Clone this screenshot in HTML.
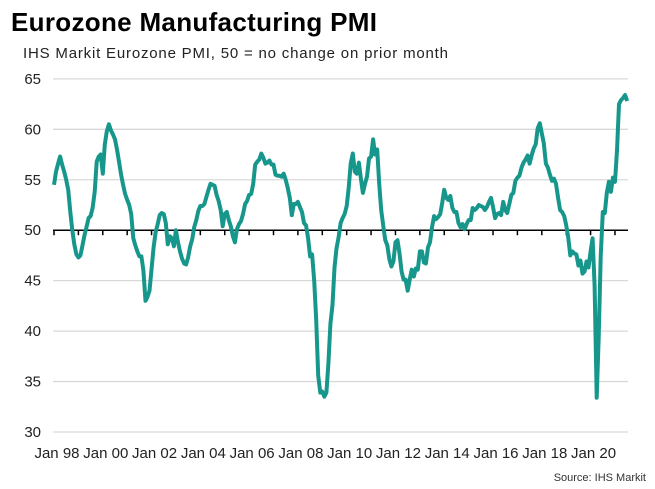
<!DOCTYPE html>
<html><head><meta charset="utf-8"><style>
body{margin:0;background:#fff;font-family:"Liberation Sans",Arial,sans-serif;}
#wrap{position:relative;width:655px;height:489px;overflow:hidden;}
</style></head><body>
<div id="wrap">
<svg id="chart" width="655" height="489">
<text x="11" y="31" font-size="26" font-weight="bold" fill="#000" textLength="366">Eurozone Manufacturing PMI</text>
<text x="23" y="58" font-size="15" fill="#222" textLength="425">IHS Markit  Eurozone PMI, 50 = no change on prior month</text>
<g id="grid"></g><g id="axes"></g><path id="line" fill="none" stroke="#17978b" stroke-width="4" stroke-linejoin="round"></path>
<text x="646" y="481" font-size="11" fill="#333" text-anchor="end">Source: IHS Markit</text>
</svg></div>
<script>
const yTicks=[30,35,40,45,50,55,60,65];
const xLabels=["Jan 98","Jan 00","Jan 02","Jan 04","Jan 06","Jan 08","Jan 10","Jan 12","Jan 14","Jan 16","Jan 18","Jan 20"];
const startYear=1998;
const pmi=[
54.5,55.8,56.6,57.3,56.5,55.8,55.0,54.0,51.8,50.0,48.6,47.6,
47.3,47.5,48.5,49.5,50.3,51.2,51.4,52.2,53.8,56.8,57.3,57.5,
55.6,58.5,59.8,60.5,59.9,59.5,59.0,58.0,56.8,55.5,54.5,53.6,
53.0,52.5,51.6,49.2,48.5,47.9,47.4,47.4,46.0,43.0,43.4,44.0,
46.2,48.3,49.8,50.6,51.5,51.7,51.6,50.7,48.6,49.4,49.2,48.4,
50.0,48.8,47.9,47.2,46.7,46.6,47.3,48.4,49.1,50.3,51.0,51.9,
52.4,52.4,52.6,53.3,54.0,54.6,54.5,54.4,53.5,52.9,52.0,50.4,
51.6,51.8,51.0,50.4,49.4,48.8,50.1,50.6,50.9,51.6,52.6,52.9,
53.5,53.6,54.6,56.5,56.8,57.0,57.6,57.2,56.6,56.7,56.9,56.5,
56.5,55.5,55.4,55.4,55.3,55.6,55.0,54.2,53.2,51.5,52.6,52.6,
52.8,52.3,51.8,50.7,50.5,49.2,47.4,47.6,45.0,41.1,35.6,33.9,
34.0,33.5,33.9,36.8,40.7,42.6,46.3,48.2,49.3,50.7,51.2,51.6,
52.4,54.2,56.6,57.6,55.8,55.6,56.7,55.1,53.7,54.6,55.3,57.1,
57.3,59.0,57.5,58.0,54.6,52.0,50.4,49.0,48.5,47.1,46.4,46.9,
48.8,49.0,47.7,45.9,45.1,45.1,44.0,45.1,46.1,45.4,46.2,46.1,
47.9,47.9,46.8,46.7,48.3,48.8,50.3,51.4,51.1,51.3,51.6,52.7,
54.0,53.2,53.0,53.4,52.2,51.8,51.8,50.7,50.3,50.6,50.1,50.6,
51.0,51.0,52.2,52.0,52.2,52.5,52.4,52.3,52.0,52.3,52.8,53.2,
52.3,51.2,51.6,51.7,51.5,52.8,52.0,51.7,52.6,53.5,53.7,54.9,
55.2,55.4,56.2,56.7,57.0,57.4,56.6,57.4,58.1,58.5,60.1,60.6,
59.6,58.6,56.6,56.2,55.5,54.9,55.1,54.6,53.2,52.0,51.8,51.4,
50.5,49.3,47.5,47.9,47.7,47.6,46.5,47.0,45.7,45.9,46.9,46.3,
47.9,49.2,44.5,33.4,39.4,47.4,51.8,51.7,53.7,54.8,53.8,55.2,
54.8,57.9,62.5,62.9,63.1,63.4,62.8];
const NS="http://www.w3.org/2000/svg";
const X0=54,PX_YEAR=24.39,Y30=432,PX_UNIT=10.09,GRID_L=53,GRID_R=628;
function xScale(m){return X0+m/12*PX_YEAR;}
function yScale(v){return Y30-(v-30)*PX_UNIT;}
const grid=document.getElementById('grid'),axes=document.getElementById('axes');
yTicks.forEach(t=>{
 const y=yScale(t);
 if(t!==50){const l=document.createElementNS(NS,'line');
 l.setAttribute('x1',GRID_L);l.setAttribute('x2',GRID_R);l.setAttribute('y1',y);l.setAttribute('y2',y);
 l.setAttribute('stroke','#d9d9d9');l.setAttribute('stroke-width','1.3');
 
 
 grid.appendChild(l);}
 const tx=document.createElementNS(NS,'text');
 tx.setAttribute('x',41);tx.setAttribute('y',y+5);tx.setAttribute('text-anchor','end');tx.setAttribute('font-size','15');tx.setAttribute('fill','#222');
 tx.textContent=t;
 
 
 axes.appendChild(tx);
});
const y50=yScale(50);
const base=document.createElementNS(NS,'line');
base.setAttribute('x1',GRID_L);base.setAttribute('x2',GRID_R);base.setAttribute('y1',y50);base.setAttribute('y2',y50);
base.setAttribute('stroke','#000');base.setAttribute('stroke-width','1.5');


axes.appendChild(base);
for(let i=0;i<=23;i++){
 const x=xScale(i*12);
 const tk=document.createElementNS(NS,'line');
 tk.setAttribute('x1',x);tk.setAttribute('x2',x);tk.setAttribute('y1',y50);tk.setAttribute('y2',y50+5);
 tk.setAttribute('stroke','#000');tk.setAttribute('stroke-width','1.5');
 
 
 axes.appendChild(tk);
}
xLabels.forEach((lab,i)=>{
 const tx=document.createElementNS(NS,'text');
 tx.setAttribute('x',xScale(i*24)+3);tx.setAttribute('y',458);tx.setAttribute('text-anchor','middle');tx.setAttribute('font-size','15');tx.setAttribute('fill','#222');
 tx.textContent=lab;
 
 
 axes.appendChild(tx);
});
document.getElementById('line').setAttribute('d',pmi.map((v,i)=>(i?'L':'M')+xScale(i).toFixed(1)+' '+yScale(v).toFixed(1)).join(' '));
</script>
</body></html>
